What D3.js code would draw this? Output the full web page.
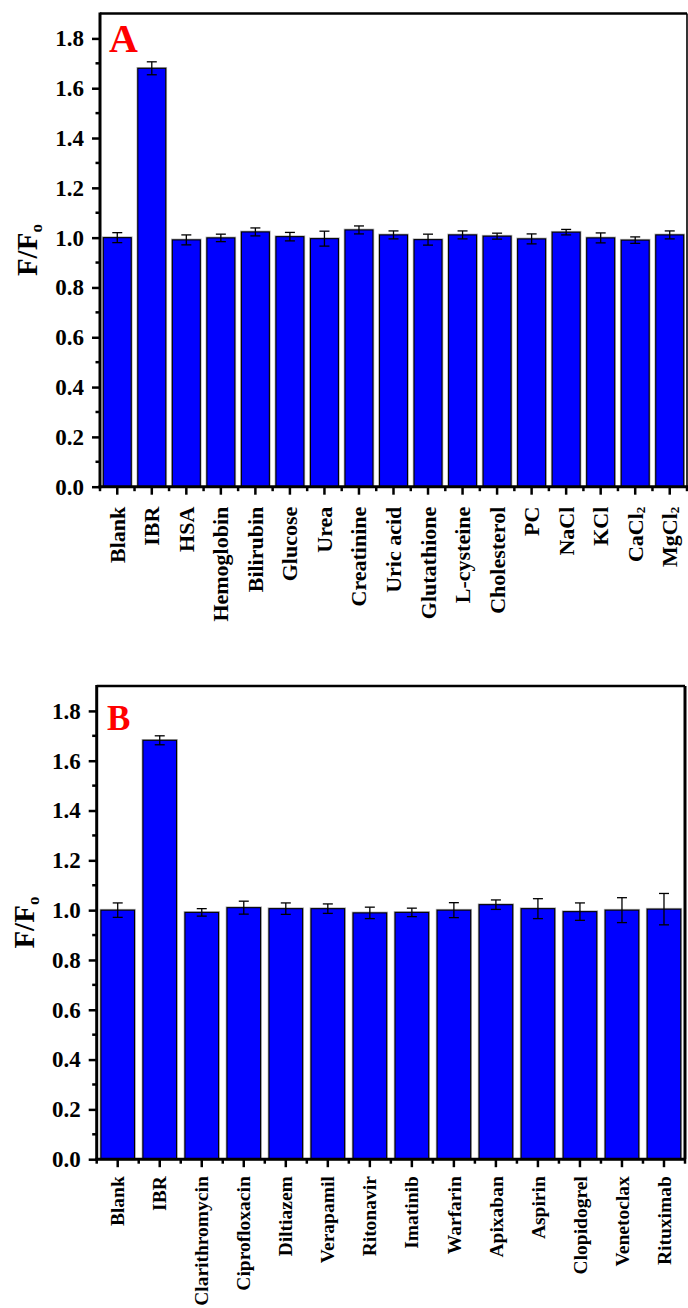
<!DOCTYPE html>
<html>
<head>
<meta charset="utf-8">
<script src="https://cdn.jsdelivr.net/npm/d3@7"></script>
<style>
  body { margin: 0; background: #fff; }
  text { font-family: "Liberation Serif", "Times New Roman", serif; font-weight: bold; }
</style>
</head>
<body>
<svg id="chart" width="688" height="1308"></svg>
<script>
// Panel A: interferents (biomolecules and salts)
const categoriesA = ["Blank", "IBR", "HSA", "Hemoglobin", "Bilirubin", "Glucose", "Urea", "Creatinine",
  "Uric acid", "Glutathione", "L-cysteine", "Cholesterol", "PC", "NaCl", "KCl", "CaCl2", "MgCl2"];
const valuesA = [1.000, 1.680, 0.991, 0.999, 1.023, 1.004, 0.996, 1.031,
  1.011, 0.992, 1.011, 1.006, 0.995, 1.022, 0.999, 0.990, 1.011];
const errorsA = [0.020, 0.026, 0.020, 0.015, 0.016, 0.017, 0.030, 0.016,
  0.016, 0.022, 0.016, 0.012, 0.020, 0.011, 0.020, 0.013, 0.016];

// Panel B: co-administered drugs
const categoriesB = ["Blank", "IBR", "Clarithromycin", "Ciprofloxacin", "Diltiazem", "Verapamil", "Ritonavir",
  "Imatinib", "Warfarin", "Apixaban", "Aspirin", "Clopidogrel", "Venetoclax", "Rituximab"];
const valuesB = [1.000, 1.682, 0.991, 1.010, 1.006, 1.006, 0.989,
  0.991, 1.000, 1.022, 1.006, 0.994, 1.000, 1.004];
const errorsB = [0.029, 0.018, 0.015, 0.026, 0.023, 0.019, 0.023,
  0.017, 0.030, 0.019, 0.040, 0.035, 0.050, 0.063];

const yTicks = [0, 0.2, 0.4, 0.6, 0.8, 1.0, 1.2, 1.4, 1.6, 1.8];
const yMinorTicks = [0.1, 0.3, 0.5, 0.7, 0.9, 1.1, 1.3, 1.5, 1.7];
const yDomain = [0, 1.9];

const svg = d3.select("#chart");

function drawPanel(cfg) {
  const { categories, values, errors, left, right, top, bottom, letter, letterPos, letterSize, rightStroke } = cfg;
  const g = svg.append("g");

  const x = d3.scaleBand()
    .domain(categories)
    .range([left, right])
    .paddingInner(cfg.pad)
    .paddingOuter(cfg.pad / 2);
  const y = d3.scaleLinear().domain(yDomain).range([bottom, top]);

  // frame: top and right edges
  g.append("line").attr("x1", left).attr("x2", right).attr("y1", top).attr("y2", top)
    .attr("stroke", "#000").attr("stroke-width", 2.5);
  g.append("line").attr("x1", right).attr("x2", right).attr("y1", top).attr("y2", bottom)
    .attr("stroke", "#000").attr("stroke-width", rightStroke);

  // bars (light halo under a thin black outline)
  const data = categories.map((c, i) => ({ c, v: values[i], e: errors[i] }));
  g.selectAll("rect.halo").data(data).join("rect")
    .attr("class", "halo")
    .attr("x", d => x(d.c)).attr("width", x.bandwidth())
    .attr("y", d => y(d.v)).attr("height", d => y(0) - y(d.v))
    .attr("fill", "none").attr("stroke", "#b0b0b0").attr("stroke-width", 2.6);
  g.selectAll("rect.bar").data(data).join("rect")
    .attr("class", "bar")
    .attr("x", d => x(d.c)).attr("width", x.bandwidth())
    .attr("y", d => y(d.v)).attr("height", d => y(0) - y(d.v))
    .attr("fill", "#0000ff").attr("stroke", "#000").attr("stroke-width", 1.1);

  // error bars
  const cap = 5;
  const eb = g.selectAll("g.err").data(data).join("g").attr("class", "err")
    .attr("stroke", "#000").attr("stroke-width", 1.3);
  eb.append("line")
    .attr("x1", d => x(d.c) + x.bandwidth() / 2).attr("x2", d => x(d.c) + x.bandwidth() / 2)
    .attr("y1", d => y(d.v + d.e)).attr("y2", d => y(d.v - d.e));
  eb.append("line")
    .attr("x1", d => x(d.c) + x.bandwidth() / 2 - cap).attr("x2", d => x(d.c) + x.bandwidth() / 2 + cap)
    .attr("y1", d => y(d.v + d.e)).attr("y2", d => y(d.v + d.e));
  eb.append("line")
    .attr("x1", d => x(d.c) + x.bandwidth() / 2 - cap).attr("x2", d => x(d.c) + x.bandwidth() / 2 + cap)
    .attr("y1", d => y(d.v - d.e)).attr("y2", d => y(d.v - d.e));

  // y axis
  const yAxis = g.append("g").attr("transform", `translate(${left},0)`)
    .call(d3.axisLeft(y).tickValues(yTicks).tickFormat(d3.format(".1f")).tickSize(8).tickPadding(8));
  yAxis.select(".domain").attr("stroke", "#000").attr("stroke-width", 3)
    .attr("d", `M0,${bottom + 1.5}V${top - 1}`);
  yAxis.selectAll(".tick line").attr("stroke-width", 2.5);
  yAxis.selectAll(".tick text").attr("font-size", 23).attr("fill", "#000")
    .style("font-family", '"Liberation Serif", "Times New Roman", serif');
  yAxis.selectAll("line.minor").data(yMinorTicks).join("line")
    .attr("class", "minor")
    .attr("x1", -4.5).attr("x2", 0)
    .attr("y1", d => y(d)).attr("y2", d => y(d))
    .attr("stroke", "#000").attr("stroke-width", 2.5);

  // x axis
  const xAxis = g.append("g").attr("transform", `translate(0,${bottom})`)
    .call(d3.axisBottom(x).tickSize(8).tickFormat(""));
  xAxis.select(".domain").attr("stroke", "#000").attr("stroke-width", 3)
    .attr("d", `M${left - 1.5},0H${right + 1}`);
  xAxis.selectAll(".tick line").attr("stroke-width", 2.5);
  const step = x.step();
  const bounds = d3.range(categories.length + 1).map(i => left + i * step);
  xAxis.selectAll("line.minor").data(bounds).join("line")
    .attr("class", "minor")
    .attr("x1", d => d).attr("x2", d => d)
    .attr("y1", 0).attr("y2", 4.5)
    .attr("stroke", "#000").attr("stroke-width", 2.5);

  // rotated category labels, digits as subscripts
  const labels = g.selectAll("text.cat").data(categories).join("text")
    .attr("class", "cat")
    .attr("font-size", cfg.labelSize)
    .attr("text-anchor", "end")
    .attr("transform", d => `translate(${x(d) + x.bandwidth() / 2 + cfg.labelSize * 0.34},${bottom + cfg.labelGap}) rotate(-90)`);
  labels.each(function (d) {
    const t = d3.select(this);
    const m = d.match(/^(.*?)(\d+)$/);
    if (m) {
      t.append("tspan").text(m[1]);
      t.append("tspan").text(m[2]).attr("font-size", 13).attr("dy", 2);
    } else {
      t.text(d);
    }
  });

  // y axis title F/Fo
  const yt = g.append("text")
    .attr("font-size", 29)
    .attr("text-anchor", "middle")
    .attr("transform", `translate(${cfg.titleX},${(top + bottom) / 2}) rotate(-90)`);
  yt.append("tspan").text("F/F");
  yt.append("tspan").text("o").attr("font-size", 17).attr("dy", 5);

  // panel letter
  g.append("text")
    .attr("x", letterPos[0]).attr("y", letterPos[1])
    .attr("font-size", letterSize)
    .attr("fill", "#ff0000")
    .text(letter);
}

drawPanel({
  categories: categoriesA, values: valuesA, errors: errorsA,
  left: 100, right: 687, top: 13.5, bottom: 486.7, pad: 0.19,
  labelGap: 20, labelSize: 22, titleX: 37, rightStroke: 1.6,
  letter: "A", letterPos: [109, 52], letterSize: 40
});

drawPanel({
  categories: categoriesB, values: valuesB, errors: errorsB,
  left: 96.7, right: 685, top: 686, bottom: 1159.2, pad: 0.2,
  labelGap: 17, labelSize: 19.5, titleX: 34, rightStroke: 3,
  letter: "B", letterPos: [107, 730], letterSize: 35
});
</script>
</body>
</html>
